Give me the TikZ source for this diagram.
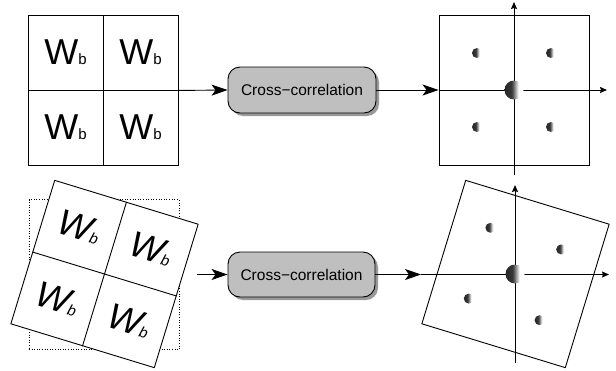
\documentclass[tikz,border=0pt]{standalone}
\usepackage{fontspec}
\setmainfont{Liberation Sans}
\usetikzlibrary{arrows.meta,shadows}
\pgfdeclarehorizontalshading{crescent}{100bp}{color(0bp)=(black!85); color(25bp)=(black!85); color(44bp)=(black!78); color(52bp)=(black!45); color(62bp)=(white); color(100bp)=(white)}
\begin{document}
\begin{tikzpicture}[x=1pt,y=-1pt,
  line width=0.9pt,
  cell/.style={draw,minimum size=75pt,inner sep=0pt,
    font=\fontsize{36}{36}\selectfont},
  wtext/.style={inner sep=0pt,font=\fontsize{36}{36}\selectfont\itshape},
  panel/.style={draw,minimum size=150pt,inner sep=0pt},
  dotbox/.style={draw,dotted,line width=0.6pt,minimum size=150pt,inner sep=0pt},
  ccbox/.style={draw,rounded corners=12pt,fill=black!25,minimum width=148pt,
    minimum height=46pt,inner sep=0pt,font=\fontsize{15.5}{16}\selectfont,
    drop shadow={shadow xshift=3pt,shadow yshift=-3pt,fill=black!50,opacity=0.8}},
  bigarrow/.style={-{Stealth[length=16pt,width=11pt,inset=4pt]}},
  axisarrow/.style={-{Stealth[length=7pt,width=6pt,inset=1pt]}},
  peak/.style={shading=crescent,draw=none}]
\useasboundingbox (0,0) rectangle (616,370);
\newcommand{\wb}{W{\fontsize{15}{15}\selectfont b}}
% top left grid
\node[cell] (a11) at (65.5,52.5) {\wb};
\node[cell] (a12) at (140.5,52.5) {\wb};
\node[cell] (a21) at (65.5,127.5) {\wb};
\node[cell] (a22) at (140.5,127.5) {\wb};
% top box
\node[ccbox] (cc1) at (302,90) {Cross−correlation};
\draw[bigarrow] (a12.south east) -- (cc1.west);
% top right panel
\node[panel] (p1) at (514,90) {};
\draw[bigarrow] (cc1.east) -- (p1.west);
\coordinate (h1r) at (607,90);
\coordinate (v1b) at (514,175);
\coordinate (v1t) at (514,2);
\draw[axisarrow] (p1.west) -- (h1r);
\draw[axisarrow] (v1b) -- (v1t);
\shade[peak] (p1.center) circle[radius=9.5pt];
\foreach \dx/\dy in {-37/-37,37/-37,-37/37,37/37}
  \shade[peak] ([shift={(\dx,\dy)}]p1.center) circle[radius=5pt];
% bottom left
\node[dotbox] (d2) at (104,274.5) {};
\node[panel,rotate=-17,fill=white] (g2) at (104.5,274) {};
\draw (g2.north) -- (g2.south);
\draw (g2.west) -- (g2.east);
\begin{scope}[shift={(104.5,274)},rotate=-17,transform shape]
  \node[wtext] (b11) at (-37.5,-37.5) {\wb};
  \node[wtext] (b12) at (37.5,-37.5) {\wb};
  \node[wtext] (b21) at (-37.5,37.5) {\wb};
  \node[wtext] (b22) at (37.5,37.5) {\wb};
\end{scope}
% bottom box
\node[ccbox,minimum width=147pt,minimum height=45pt] (cc2) at (301.5,274.5) {Cross−correlation};
\coordinate (s2) at (197,274.5);
\draw[bigarrow] (s2) -- (cc2.west);
% bottom right
\node[panel,rotate=-17] (p2) at (515.5,274) {};
\coordinate (h2l) at (421,274.5);
\coordinate (h2r) at (609,274.5);
\coordinate (v2b) at (515,363);
\coordinate (v2t) at (515,185);
\draw[bigarrow] (cc2.east) -- (h2l);
\draw[axisarrow] (h2l) -- (h2r);
\draw[axisarrow] (v2b) -- (v2t);
\shade[peak] (515,274) circle[radius=9.5pt];
\begin{scope}[shift={(515,274)},rotate=-17]
  \foreach \dx/\dy in {-37/-37,37/-37,-37/37,37/37}
    \coordinate (q\dx\dy) at (\dx,\dy);
\end{scope}
\foreach \dx/\dy in {-37/-37,37/-37,-37/37,37/37}
  \shade[peak] (q\dx\dy) circle[radius=5pt];
\end{tikzpicture}
\end{document}
